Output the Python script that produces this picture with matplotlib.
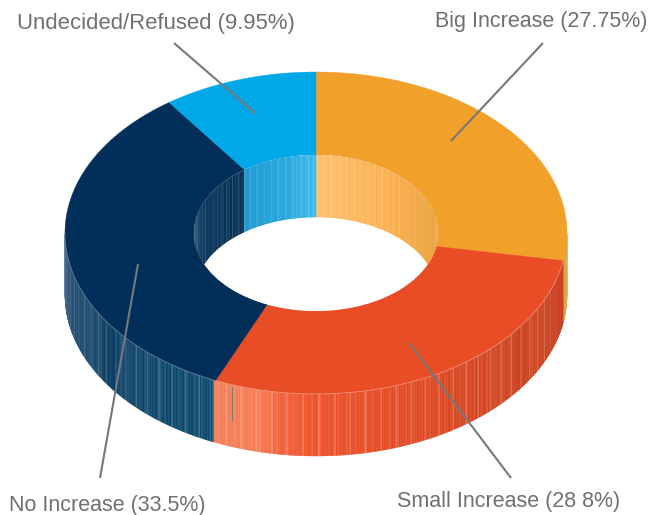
#!/usr/bin/env python3
"""Isometric donut chart of expected increase responses."""

import numpy as np
import matplotlib
matplotlib.use("Agg")
import matplotlib.pyplot as plt
from matplotlib.collections import PolyCollection
from matplotlib.colors import to_rgb
from matplotlib.patches import Ellipse, Polygon

categories = ["Big Increase", "Small Increase", "No Increase", "Undecided/Refused"]
values = [27.75, 28.8, 33.5, 9.95]
value_labels = ["27.75%", "28 8%", "33.5%", "9.95%"]
face_colors = ["#f1a02a", "#e84d26", "#012f59", "#00a8e8"]

# shading of the walls, (angle clockwise from top, colour)
outer_ramps = [
    [(90, "#e9ad45"), (100, "#dd9f3a")],
    [(100, "#c93f1c"), (125, "#cc401c"), (150, "#dc4620"), (180, "#ee5028"), (188, "#f2603a"),
     (193, "#f57a50"), (204, "#f57f57")],
    [(204, "#0c4c70"), (235, "#083c62"), (255, "#244f75"), (270, "#4a6a8c")],
]
inner_ramps = [
    [(0, "#ffbd66"), (45, "#f7aa45"), (75, "#eaa440"), (90, "#e8b56c")],
    [(270, "#5e7c98"), (290, "#0d3a60"), (324, "#032c52")],
    [(324, "#1595d0"), (345, "#1ba2dc"), (360, "#38b9ee")],
]

# pixel geometry of the drawing
CX, CY = 316, 233
OUTER_RX, OUTER_RY = 251, 161
INNER_RX, INNER_RY = 122, 78
DEPTH = 62

TEXT_COLOR = "#6f7072"
LINE_COLOR = "#77787a"


def ring_point(theta, rx, ry):
    t = np.radians(theta)
    return CX + rx * np.sin(t), CY - ry * np.cos(t)


def mix(color, other, amount):
    return tuple(np.array(to_rgb(color)) * (1 - amount) + np.array(to_rgb(other)) * amount)


def wall_strips(ax, ramp, rx, ry, zorder=1, clip=None):
    """Draw one curved wall as thin vertical strips with light streaks."""
    angles = [a for a, _ in ramp]
    rgb = np.array([to_rgb(c) for _, c in ramp])
    edges = np.arange(angles[0], angles[-1] + 0.4, 0.4)
    edges[-1] = min(edges[-1], angles[-1])
    polys, colors = [], []
    for i in range(len(edges) - 1):
        a0, a1 = edges[i], edges[i + 1]
        x0, y0 = ring_point(a0, rx, ry)
        x1, y1 = ring_point(a1, rx, ry)
        polys.append([(x0, y0), (x1, y1), (x1, y1 + DEPTH), (x0, y0 + DEPTH)])
        col = [np.interp(a0, angles, rgb[:, k]) for k in range(3)]
        # streak pattern like the banding in the source artwork
        if i % 9 == 0:
            col = mix(col, "#ffffff", 0.2)
        elif i % 5 == 2:
            col = mix(col, "#ffffff", 0.08)
        colors.append(col)
    pc = PolyCollection(polys, facecolors=colors, edgecolors=colors, linewidths=0.3, zorder=zorder)
    ax.add_collection(pc)
    if clip is not None:
        pc.set_clip_path(clip)


def sector(ax, start, end, color):
    angles = np.linspace(start, end, 160)
    outer = [ring_point(a, OUTER_RX, OUTER_RY) for a in angles]
    inner = [ring_point(a, INNER_RX, INNER_RY) for a in angles[::-1]]
    ax.add_patch(Polygon(outer + inner, closed=True, facecolor=color, edgecolor=color,
                         linewidth=0.3, zorder=2))


fig = plt.figure(figsize=(6.62, 5.15), dpi=100)
ax = fig.add_axes([0, 0, 1, 1])
ax.set_xlim(0, 662)
ax.set_ylim(515, 0)
ax.axis("off")

plt.rcParams["font.family"] = ["Liberation Sans", "DejaVu Sans"]

bounds = np.concatenate([[0], np.cumsum(values)]) / sum(values) * 360

for ramp in outer_ramps:
    wall_strips(ax, ramp, OUTER_RX, OUTER_RY)

for i, color in enumerate(face_colors):
    sector(ax, bounds[i], bounds[i + 1], color)

# pale rim where the top face meets the outer wall
rim = [ring_point(a, OUTER_RX, OUTER_RY) for a in np.linspace(100, 270, 200)]
ax.plot(*zip(*rim), color="white", alpha=0.35, lw=0.6, zorder=3)

# hole: the far inner wall is only visible through the top opening
hole = Ellipse((CX, CY), 2 * INNER_RX, 2 * INNER_RY, facecolor="white", edgecolor="none", zorder=3)
ax.add_patch(hole)
for ramp in inner_ramps:
    wall_strips(ax, ramp, INNER_RX, INNER_RY, zorder=4, clip=hole)

# leader lines, label end then slice end
leaders = [
    ((543, 43), (451, 141)),
    ((511, 478), (409, 343)),
    ((100, 478), (138, 264)),
    ((174, 43), (256, 114)),
]
for (x0, y0), (x1, y1) in leaders:
    ax.plot([x0, x1], [y0, y1], color=LINE_COLOR, lw=1.5, zorder=6, solid_capstyle="butt")
ax.plot([232, 232], [387, 421], color=LINE_COLOR, lw=0.6, zorder=6)

label_pos = [(647, 22, "right", 15.5), (397, 502, "left", 15.5), (9, 505, "left", 15.5), (17, 24, "left", 15.9)]
for name, val, (x, y, ha, size) in zip(categories, value_labels, label_pos):
    ax.text(x, y, f"{name} ({val})", color=TEXT_COLOR, fontsize=size, ha=ha, va="center", zorder=7)

fig.savefig("out.png", dpi=100)
